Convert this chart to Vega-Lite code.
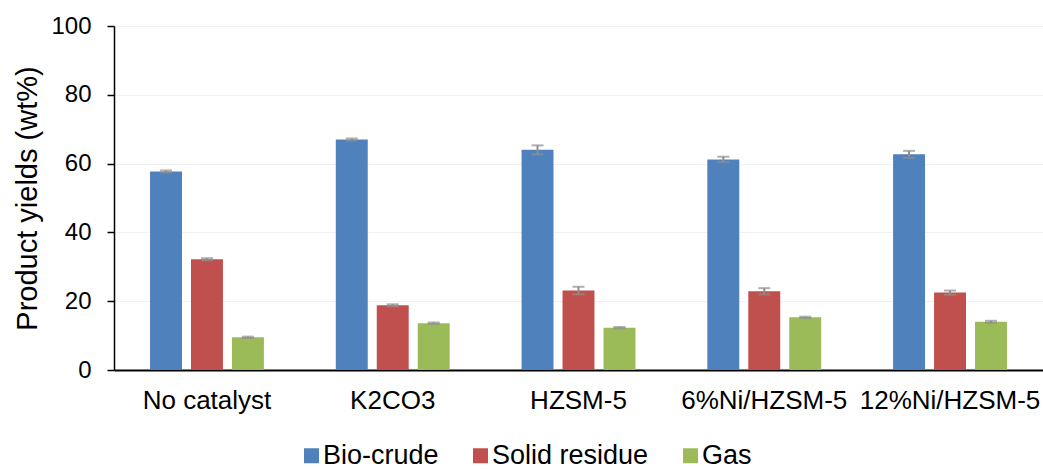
{
  "$schema": "https://vega.github.io/schema/vega-lite/v6.json",
  "width": 929,
  "height": 344,
  "autosize": "none",
  "padding": {"left": 114, "top": 26, "right": 0, "bottom": 99},
  "background": "white",
  "config": {"view": {"stroke": null}, "font": "Liberation Sans"},
  "data": {"values": [
    {"catalyst": "No catalyst", "product": "Bio-crude", "value": 57.7, "lo": 57.4, "hi": 58.0},
    {"catalyst": "No catalyst", "product": "Solid residue", "value": 32.2, "lo": 31.9, "hi": 32.5},
    {"catalyst": "No catalyst", "product": "Gas", "value": 9.5, "lo": 9.3, "hi": 9.7},
    {"catalyst": "K2CO3", "product": "Bio-crude", "value": 67.0, "lo": 66.7, "hi": 67.3},
    {"catalyst": "K2CO3", "product": "Solid residue", "value": 18.8, "lo": 18.5, "hi": 19.1},
    {"catalyst": "K2CO3", "product": "Gas", "value": 13.6, "lo": 13.4, "hi": 13.8},
    {"catalyst": "HZSM-5", "product": "Bio-crude", "value": 64.0, "lo": 62.7, "hi": 65.3},
    {"catalyst": "HZSM-5", "product": "Solid residue", "value": 23.1, "lo": 22.0, "hi": 24.2},
    {"catalyst": "HZSM-5", "product": "Gas", "value": 12.3, "lo": 12.1, "hi": 12.5},
    {"catalyst": "6%Ni/HZSM-5", "product": "Bio-crude", "value": 61.2, "lo": 60.4, "hi": 62.0},
    {"catalyst": "6%Ni/HZSM-5", "product": "Solid residue", "value": 22.9, "lo": 22.0, "hi": 23.8},
    {"catalyst": "6%Ni/HZSM-5", "product": "Gas", "value": 15.3, "lo": 15.1, "hi": 15.5},
    {"catalyst": "12%Ni/HZSM-5", "product": "Bio-crude", "value": 62.7, "lo": 61.7, "hi": 63.7},
    {"catalyst": "12%Ni/HZSM-5", "product": "Solid residue", "value": 22.5, "lo": 21.9, "hi": 23.1},
    {"catalyst": "12%Ni/HZSM-5", "product": "Gas", "value": 14.0, "lo": 13.7, "hi": 14.3}
  ]},
  "encoding": {
    "x": {
      "field": "catalyst", "type": "nominal",
      "sort": ["No catalyst", "K2CO3", "HZSM-5", "6%Ni/HZSM-5", "12%Ni/HZSM-5"],
      "scale": {"paddingInner": 0.387, "paddingOuter": 0.194},
      "axis": {"title": null, "labelAngle": 0, "labelFontSize": 26, "labelColor": "#000", "labelPadding": 17, "labelLimit": 400, "labelOverlap": false, "ticks": false, "domainColor": "#000", "domainWidth": 2, "grid": false, "labelFont": "Liberation Sans"}
    },
    "xOffset": {
      "field": "product", "type": "nominal",
      "sort": ["Bio-crude", "Solid residue", "Gas"],
      "scale": {"paddingInner": 0.22, "paddingOuter": 0}
    }
  },
  "layer": [
    {
      "mark": {"type": "bar"},
      "encoding": {
        "y": {
          "field": "value", "type": "quantitative", "title": "Product yields (wt%)",
          "scale": {"domain": [0, 100]},
          "axis": {"values": [0, 20, 40, 60, 80, 100], "labelFontSize": 24, "labelColor": "#000", "labelPadding": 16, "tickSize": 7, "tickColor": "#000", "tickWidth": 1.5, "domainColor": "#000", "domainWidth": 1.5, "gridColor": "#f0f0f0", "gridWidth": 1, "titleFontSize": 29, "titleFontWeight": "normal", "titleColor": "#000", "titlePadding": 8, "labelFont": "Liberation Sans", "titleFont": "Liberation Sans"}
        },
        "color": {
          "field": "product", "type": "nominal",
          "sort": ["Bio-crude", "Solid residue", "Gas"],
          "scale": {"domain": ["Bio-crude", "Solid residue", "Gas"], "range": ["#4f81bd", "#c0504d", "#9bbb59"]},
          "legend": {"orient": "none", "legendX": 184, "legendY": 416, "direction": "horizontal", "title": null, "symbolType": "square", "symbolSize": 225, "symbolStrokeWidth": 0, "labelFontSize": 27, "labelColor": "#000", "labelFont": "Liberation Sans", "columnPadding": 28, "labelOffset": -2, "padding": 0}
        }
      }
    },
    {
      "mark": {"type": "rule", "color": "#8e8e8e", "strokeWidth": 2},
      "encoding": {
        "y": {"field": "lo", "type": "quantitative", "title": "Product yields (wt%)"},
        "y2": {"field": "hi"}
      }
    },
    {
      "mark": {"type": "tick", "color": "#8e8e8e", "thickness": 2, "size": 12},
      "encoding": {"y": {"field": "lo", "type": "quantitative", "title": "Product yields (wt%)"}}
    },
    {
      "mark": {"type": "tick", "color": "#8e8e8e", "thickness": 2, "size": 12},
      "encoding": {"y": {"field": "hi", "type": "quantitative", "title": "Product yields (wt%)"}}
    }
  ]
}
